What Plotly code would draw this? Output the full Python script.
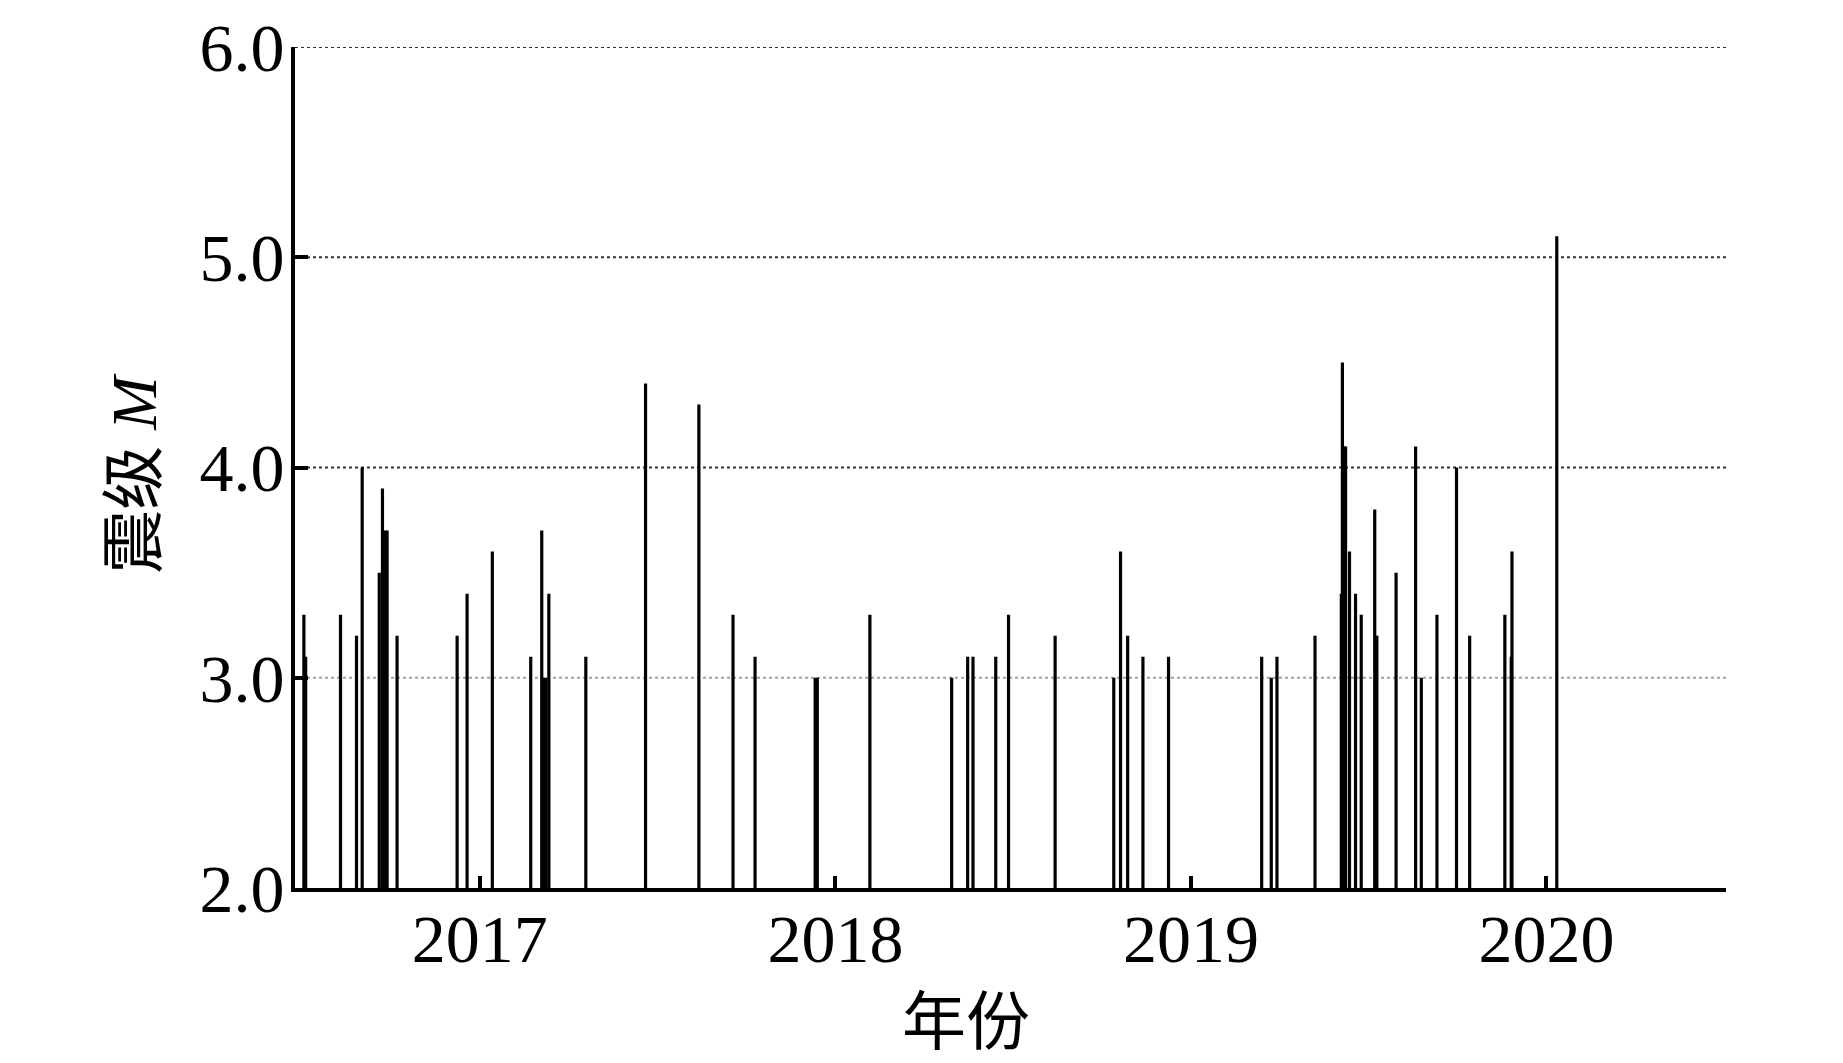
import plotly.graph_objects as go

# Earthquake events: decimal year and magnitude
event_year = [2016.505, 2016.510, 2016.608, 2016.653, 2016.669, 2016.717, 2016.726,
              2016.733, 2016.739, 2016.767, 2016.936, 2016.964, 2017.035, 2017.143,
              2017.174, 2017.180, 2017.186, 2017.194, 2017.298, 2017.466, 2017.616,
              2017.712, 2017.774, 2017.943, 2017.949, 2018.097, 2018.327, 2018.372,
              2018.387, 2018.451, 2018.487, 2018.618, 2018.783, 2018.802, 2018.822,
              2018.865, 2018.937, 2019.199, 2019.226, 2019.242, 2019.349, 2019.423,
              2019.426, 2019.431, 2019.435, 2019.446, 2019.463, 2019.479, 2019.517,
              2019.523, 2019.577, 2019.632, 2019.648, 2019.692, 2019.747, 2019.784,
              2019.883, 2019.901, 2019.903, 2020.029]
event_mag = [3.3, 3.1, 3.3, 3.2, 4.0, 3.5, 3.9,
             3.7, 3.7, 3.2, 3.2, 3.4, 3.6, 3.1,
             3.7, 3.0, 3.0, 3.4, 3.1, 4.4, 4.3,
             3.3, 3.1, 3.0, 3.0, 3.3, 3.0, 3.1,
             3.1, 3.1, 3.3, 3.2, 3.0, 3.6, 3.2,
             3.1, 3.1, 3.1, 3.0, 3.1, 3.2, 3.4,
             4.5, 4.1, 4.1, 3.6, 3.4, 3.3, 3.8,
             3.2, 3.5, 4.1, 3.0, 3.3, 4.0, 3.2,
             3.3, 3.1, 3.6, 5.1]

year_ticks = [2017, 2018, 2019, 2020]
mag_ticks = [2.0, 3.0, 4.0, 5.0, 6.0]
base_mag = 2.0

# build stems as one broken line
xs, ys = [], []
for t, m in zip(event_year, event_mag):
    xs += [t, t, None]
    ys += [base_mag, m, None]

fig = go.Figure()
fig.add_trace(go.Scatter(x=xs, y=ys, mode='lines',
                         line=dict(color='black', width=3.2),
                         hoverinfo='skip', showlegend=False))

# dotted grid lines (the 3.0 one is lighter)
for v in mag_ticks[1:]:
    fig.add_shape(type='line', xref='paper', x0=0, x1=1, yref='y', y0=v, y1=v,
                  line=dict(color='#a0a0a0' if v == 3.0 else '#333333',
                            width=2, dash='dot'),
                  layer='below')

serif = 'Liberation Serif, Times New Roman, serif'
cjk = 'Liberation Serif, Noto Sans CJK SC, serif'

# page body has an 8px margin, so margins are shifted by that
fig.update_layout(
    width=1843, height=1063,
    margin=dict(l=287, r=125, t=39, b=183, autoexpand=False),
    plot_bgcolor='white', paper_bgcolor='white',
    font=dict(family=serif, size=68, color='black'),
    xaxis=dict(range=[2016.48, 2020.505], tickvals=year_ticks,
               ticktext=[str(y) for y in year_ticks], automargin=False,
               showgrid=False, zeroline=False,
               showline=True, linecolor='black', linewidth=4,
               ticks='inside', ticklen=12, tickwidth=4, tickcolor='black',
               tickfont=dict(family=serif, size=68), ticklabelstandoff=-12),
    yaxis=dict(range=[2, 6], tickvals=mag_ticks, tickformat='.1f',
               automargin=False, showgrid=False, zeroline=False,
               showline=True, linecolor='black', linewidth=4,
               ticks='inside', ticklen=13, tickwidth=4, tickcolor='black',
               tickfont=dict(family=serif, size=68), ticklabelstandoff=-7),
    annotations=[
        dict(text='年份', xref='paper', yref='paper', x=0.469, y=-0.1605,
             xanchor='center', yanchor='middle', showarrow=False,
             font=dict(family=cjk, size=64)),
        dict(text='震级 <i>M</i>', xref='paper', yref='paper', x=-0.112, y=0.4935,
             xanchor='center', yanchor='middle', textangle=-90, showarrow=False,
             font=dict(family=cjk, size=64)),
    ],
)

fig.write_html('out.html')
